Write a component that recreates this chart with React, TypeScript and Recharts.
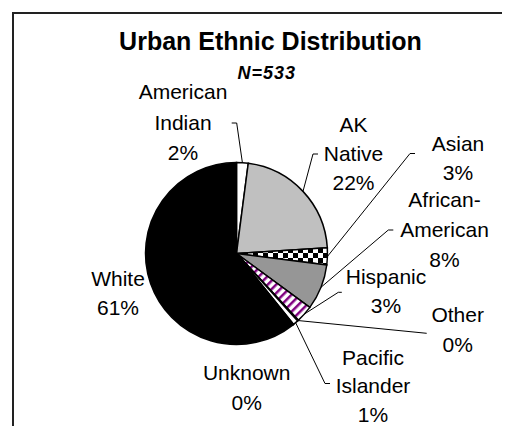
import React from 'react';
import { PieChart, Pie, Cell } from 'recharts';

const categories = [
  'American Indian',
  'AK Native',
  'Asian',
  'African-American',
  'Hispanic',
  'Other',
  'Pacific Islander',
  'Unknown',
  'White',
];
// respondent counts, N=533
const counts = [11, 117, 16, 43, 16, 1, 5, 1, 323];
const chartTitle = 'Urban Ethnic Distribution';
const chartSubtitle = 'N=533';

const sliceFills = [
  '#ffffff',
  '#c0c0c0',
  'url(#checker)',
  '#969696',
  'url(#purpleStripe)',
  '#ffffff',
  '#ffffff',
  '#ffffff',
  '#000000',
];

// hand-placed labels (like the dragged Excel labels), offsets from the pie centre.
// x/y = centre of first text line baseline, lh = line step, elbow = leader bend, tick = end stub
const labelLayout = [
  { x: -53.5, y: -154.5, lh: 30.5, elbow: [0.2, -130.5], tick: -5 },
  { x: 117, y: -121.8, lh: 29.2, elbow: [76.5, -99.5], tick: 5 },
  { x: 221.5, y: -102.5, lh: 29, elbow: [173.5, -100], tick: 5 },
  { x: 208, y: -46.8, lh: 30.2, elbow: [151.8, -23.5], tick: 5 },
  { x: 149.5, y: 30.5, lh: 29.3, elbow: [101.8, 38.8], tick: 3.5 },
  { x: 221.2, y: 68.2, lh: 30, elbow: [190.2, 79.8], tick: 0 },
  { x: 136.5, y: 111.5, lh: 28.3, elbow: [88.5, 130], tick: 5 },
  { x: 10.2, y: 126.5, lh: 30, elbow: null, tick: 0 },
  { x: -118.5, y: 32.5, lh: 29, elbow: null, tick: 0 },
];

const data = categories.map((name, i) => ({ name, value: counts[i] }));

const FONT = '"Liberation Sans", Arial, sans-serif';
const RAD = Math.PI / 180;

const splitName = (name: string) => name.replace('-', '-\n').split(/[\n ]/);

const renderLabel = (props: any) => {
  const { cx, cy, midAngle, outerRadius, percent, index, name } = props;
  const lay = labelLayout[index];
  const lines = [...splitName(name), `${Math.round(percent * 100)}%`];
  const ex = cx + outerRadius * Math.cos(-midAngle * RAD);
  const ey = cy + outerRadius * Math.sin(-midAngle * RAD);
  let leader = null;
  if (lay.elbow) {
    const bx = cx + lay.elbow[0];
    const by = cy + lay.elbow[1];
    leader = (
      <polyline
        points={`${ex},${ey} ${bx},${by} ${bx + lay.tick},${by}`}
        fill="none"
        stroke="#000"
        strokeWidth={1}
      />
    );
  }
  return (
    <g key={`lbl-${index}`}>
      {leader}
      <text
        x={cx + lay.x}
        y={cy + lay.y}
        textAnchor="middle"
        fontFamily={FONT}
        fontSize={21}
        fill="#000"
      >
        {lines.map((ln, k) => (
          <tspan key={k} x={cx + lay.x} y={cy + lay.y + k * lay.lh}>
            {ln}
          </tspan>
        ))}
      </text>
    </g>
  );
};

export default function App() {
  return (
    <div style={{ position: 'relative', width: 502, height: 418, overflow: 'hidden', background: '#fff' }}>
      <div
        style={{
          position: 'absolute',
          left: 4,
          top: 4,
          width: 600,
          height: 600,
          borderLeft: '2px solid #222',
          borderTop: '2px solid #222',
        }}
      />
      <PieChart
        width={502}
        height={418}
        margin={{ top: 0, right: 0, bottom: 0, left: 0 }}
        style={{ position: 'absolute', left: 0, top: 0 }}
      >
        <defs>
          <pattern id="checker" width="10" height="10" patternUnits="userSpaceOnUse">
            <rect width="10" height="10" fill="#fff" />
            <rect width="5" height="5" fill="#000" />
            <rect x="5" y="5" width="5" height="5" fill="#000" />
          </pattern>
          <pattern
            id="purpleStripe"
            width="6"
            height="6"
            patternUnits="userSpaceOnUse"
            patternTransform="rotate(45)"
          >
            <rect width="6" height="6" fill="#fff" />
            <rect width="2.5" height="6" fill="#800080" />
          </pattern>
        </defs>
        <text x={262.5} y={42} textAnchor="middle" fontFamily={FONT} fontSize={25} fontWeight="bold" fill="#000">
          {chartTitle}
        </text>
        <text
          x={258.7}
          y={71}
          textAnchor="middle"
          fontFamily={FONT}
          fontSize={18}
          fontWeight="bold"
          fontStyle="italic"
          letterSpacing={1}
          fill="#000"
        >
          {chartSubtitle}
        </text>
        <Pie
          data={data}
          dataKey="value"
          nameKey="name"
          cx={228.5}
          cy={245.5}
          outerRadius={91}
          startAngle={90}
          endAngle={-270}
          stroke="#000"
          strokeWidth={1.5}
          label={renderLabel}
          labelLine={false}
          isAnimationActive={false}
        >
          {data.map((d, i) => (
            <Cell key={d.name} fill={sliceFills[i]} />
          ))}
        </Pie>
      </PieChart>
    </div>
  );
}
